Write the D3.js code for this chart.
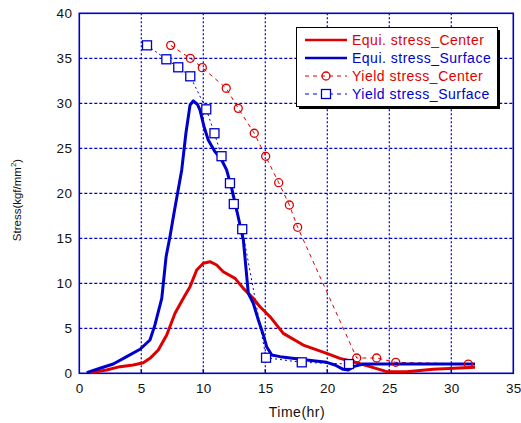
<!DOCTYPE html>
<html><head><meta charset="utf-8">
<script src="https://cdn.jsdelivr.net/npm/d3@7"></script>
<style>body{margin:0;background:#fff}svg{display:block;font-family:Arial,"Liberation Sans",sans-serif}</style>
</head><body><svg id="c" width="521" height="423"></svg>
<script>
const xTicks = [0,5,10,15,20,25,30,35];
const yTicks = [0,5,10,15,20,25,30,35,40];
const seriesNames = ["Equi. stress_Center","Equi. stress_Surface","Yield stress_Center","Yield stress_Surface"];

const equiCenter = [[0.86,0.07],[2.2,0.37],[3.28,0.74],[4.35,0.92],[5.16,1.18],[5.7,1.66],[6.37,2.59],[7.05,4.26],[7.72,6.67],[8.39,8.33],[8.93,9.63],[9.47,11.48],[10.0,12.22],[10.54,12.4],[11.08,12.03],[11.61,11.29],[12.56,10.55],[13.23,9.44],[14.03,8.33],[14.57,7.4],[15.38,6.29],[16.45,4.44],[18.06,3.14],[19.95,2.22],[21.02,1.66],[22.1,1.29],[23.44,0.74],[24.79,0.18],[26.4,0.18],[28.55,0.44],[31.91,0.67]];
const equiSurface = [[0.6,0.07],[1.67,0.56],[2.74,1.03],[3.82,1.85],[4.9,2.67],[5.7,3.7],[6.1,5.37],[6.65,8.33],[7.0,12.96],[7.31,15.18],[7.65,17.9],[8.26,22.6],[8.6,26.7],[8.93,29.8],[9.19,30.26],[9.52,29.9],[9.73,29.26],[10.06,27.4],[10.4,25.92],[10.94,24.63],[11.48,23.7],[11.88,22.6],[12.29,20.55],[12.69,18.14],[13.23,14.81],[13.63,8.89],[14.03,7.78],[14.44,5.92],[14.84,4.26],[15.11,2.96],[15.52,2.03],[16.19,1.85],[18.34,1.48],[19.95,1.22],[20.62,0.92],[21.29,0.44],[21.7,0.37],[22.1,0.74],[22.9,1.03],[25.3,1.03],[31.91,1.03]];
const yieldCenter = [[7.37,36.44],[8.95,35.0],[9.92,33.96],[11.85,31.67],[12.82,29.44],[14.11,26.67],[15.03,24.11],[16.08,21.18],[16.94,18.7],[17.61,16.22],[22.37,1.7],[23.98,1.7],[25.52,1.22],[31.37,1.03]];
const yieldSurface = [[5.46,36.44],[7.02,34.89],[7.98,34.0],[8.95,33.0],[10.24,29.33],[10.9,26.67],[11.47,24.12],[12.15,21.12],[12.46,18.81],[13.14,16.01],[15.06,1.73],[17.94,1.22],[21.75,1.03]];

const RED = "#dd0000", BLUE = "#0000cc";
const svg = d3.select("#c");
const L = 79.3, R = 513.3, T = 13.3, B = 373.3;
const x = d3.scaleLinear().domain([0,35]).range([L,R]);
const y = d3.scaleLinear().domain([0,40]).range([B,T]);

// grid
svg.append("g").selectAll("line").data(xTicks.slice(1,-1)).join("line")
  .attr("x1",d=>x(d)).attr("x2",d=>x(d)).attr("y1",T).attr("y2",B)
  .attr("stroke",BLUE).attr("stroke-width",1.2).attr("stroke-dasharray","2,2");
svg.append("g").selectAll("line").data(yTicks.slice(1,-1)).join("line")
  .attr("y1",d=>y(d)).attr("y2",d=>y(d)).attr("x1",L).attr("x2",R)
  .attr("stroke",BLUE).attr("stroke-width",1.2).attr("stroke-dasharray","3,2");

// axes
const xa = svg.append("g").attr("transform",`translate(0,${B})`)
  .call(d3.axisBottom(x).tickValues(xTicks).tickSize(0).tickPadding(10));
const ya = svg.append("g").attr("transform",`translate(${L},0)`)
  .call(d3.axisLeft(y).tickValues(yTicks).tickSize(0).tickPadding(7));
[xa,ya].forEach(g=>{g.select(".domain").remove();
  g.selectAll("text").attr("font-size",13.5).attr("fill","#111").attr("letter-spacing",0.4)
   .attr("font-family","Arial, 'Liberation Sans', sans-serif");});
// inner ticks at bottom
svg.append("g").selectAll("line").data(xTicks.slice(1,-1)).join("line")
  .attr("x1",d=>x(d)).attr("x2",d=>x(d)).attr("y1",B).attr("y2",B-4)
  .attr("stroke",BLUE).attr("stroke-width",1.5);
svg.append("rect").attr("x",L).attr("y",T).attr("width",R-L).attr("height",B-T)
  .attr("fill","none").attr("stroke",BLUE).attr("stroke-width",1.6);

// lines
const line = d3.line().x(d=>x(d[0])).y(d=>y(d[1]));
svg.append("path").datum(yieldCenter).attr("d",line).attr("fill","none")
  .attr("stroke",RED).attr("stroke-width",1).attr("stroke-dasharray","4,4");
svg.append("path").datum(yieldSurface).attr("d",line).attr("fill","none")
  .attr("stroke",BLUE).attr("stroke-width",1).attr("stroke-dasharray","2,3");
svg.append("path").datum(equiCenter).attr("d",line).attr("fill","none")
  .attr("stroke",RED).attr("stroke-width",3).attr("stroke-linejoin","round");
svg.append("path").datum(equiSurface).attr("d",line).attr("fill","none")
  .attr("stroke",BLUE).attr("stroke-width",3).attr("stroke-linejoin","round");

// markers
svg.append("g").selectAll("circle").data(yieldCenter).join("circle")
  .attr("cx",d=>x(d[0])).attr("cy",d=>y(d[1])).attr("r",4)
  .attr("fill","none").attr("stroke",RED).attr("stroke-width",1.3);
svg.append("g").selectAll("rect").data(yieldSurface).join("rect")
  .attr("x",d=>x(d[0])-4.5).attr("y",d=>y(d[1])-4.5).attr("width",9).attr("height",9)
  .attr("fill","#fff").attr("stroke",BLUE).attr("stroke-width",1.3);

// axis titles
svg.append("text").attr("x",297).attr("y",416.5).attr("text-anchor","middle")
  .attr("font-size",14).attr("letter-spacing",0.5).attr("fill","#111").text("Time(hr)");
const yt = svg.append("text").attr("transform","translate(21,200) rotate(-90)")
  .attr("text-anchor","middle").attr("font-size",11.5).attr("fill","#111");
yt.append("tspan").text("Stress(kgf/mm");
yt.append("tspan").attr("font-size",8).attr("dy",-5).text("2");
yt.append("tspan").attr("dy",5).text(")");

// legend
const lg = svg.append("g");
lg.append("rect").attr("x",299).attr("y",30).attr("width",201).attr("height",79).attr("fill","#000");
lg.append("rect").attr("x",296.5).attr("y",27.5).attr("width",201).attr("height",79)
  .attr("fill","#fff").attr("stroke","#000").attr("stroke-width",1);
const styles = [
  {c:RED,w:2.5,dash:null,m:null},
  {c:BLUE,w:2.5,dash:null,m:null},
  {c:RED,w:1,dash:"4,4",m:"circle"},
  {c:BLUE,w:1,dash:"4,4",m:"square"}];
seriesNames.forEach((name,i)=>{
  const yy = 40 + i*18, s = styles[i];
  lg.append("line").attr("x1",305).attr("x2",347).attr("y1",yy).attr("y2",yy)
    .attr("stroke",s.c).attr("stroke-width",s.w).attr("stroke-dasharray",s.dash);
  if(s.m==="circle") lg.append("circle").attr("cx",326).attr("cy",yy).attr("r",4)
    .attr("fill","none").attr("stroke",s.c).attr("stroke-width",1.3);
  if(s.m==="square") lg.append("rect").attr("x",321.5).attr("y",yy-4.5).attr("width",9).attr("height",9)
    .attr("fill","#fff").attr("stroke",s.c).attr("stroke-width",1.3);
  lg.append("text").attr("x",352).attr("y",yy+5).attr("font-size",14).attr("letter-spacing",0.5)
    .attr("fill",s.c).text(name);
});
</script></body></html>
